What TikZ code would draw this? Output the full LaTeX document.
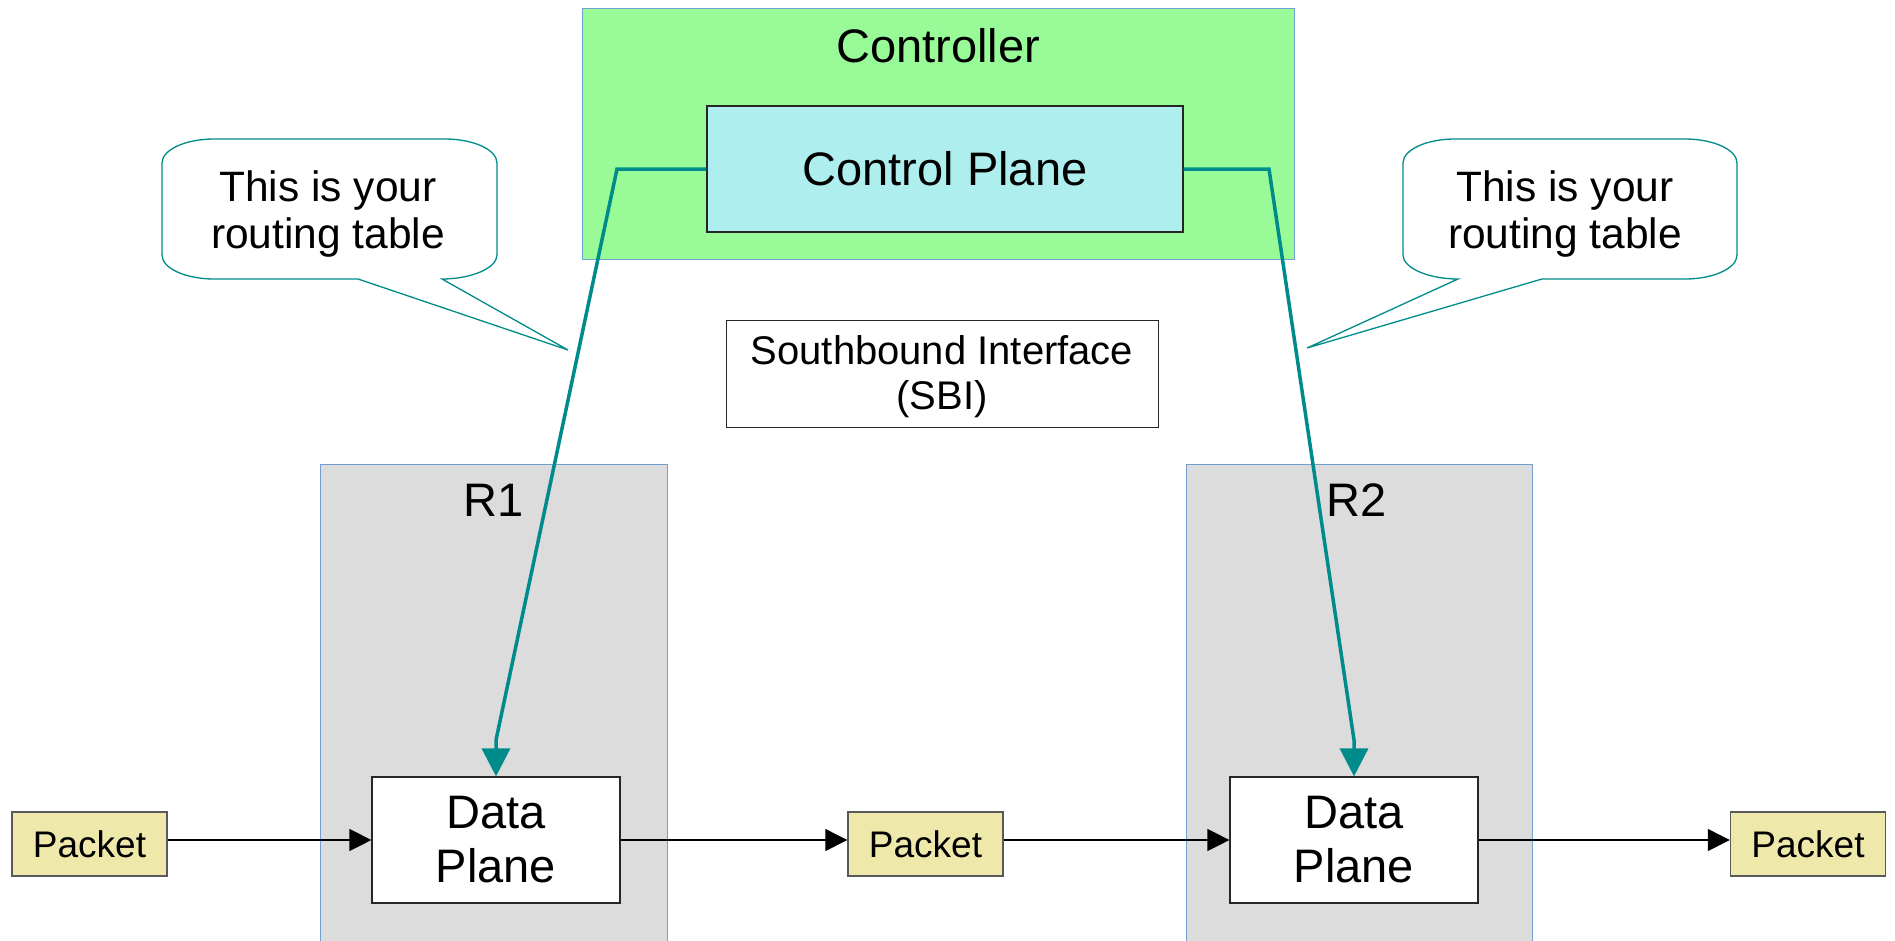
\documentclass[tikz,border=0pt]{standalone}
\usepackage{fontspec}
\setmainfont{Liberation Sans}
\usetikzlibrary{arrows.meta}

\definecolor{ctrlgreen}{RGB}{152,251,152}
\definecolor{cpcyan}{RGB}{175,238,238}
\definecolor{routergray}{RGB}{220,220,220}
\definecolor{pktyellow}{RGB}{238,232,170}
\definecolor{linkteal}{RGB}{0,139,139}
\definecolor{frameblue}{RGB}{114,159,207}

\begin{document}
\begin{tikzpicture}[x=1pt,y=-1pt,
  bigtext/.style={font=\fontsize{47}{54}\selectfont},
  container/.style={draw=frameblue, line width=1pt, rectangle, inner sep=0pt},
  plainbox/.style={draw=black!85, line width=1.2pt, rectangle, inner sep=0pt, align=center},
  packetbox/.style={draw=black!65, line width=1.4pt, fill=pktyellow, rectangle, inner sep=0pt,
    minimum width=155pt, minimum height=64pt, font=\fontsize{37}{42}\selectfont},
  dataplane/.style={plainbox, fill=white, minimum width=248pt, minimum height=126pt, bigtext},
  flow/.style={draw=black, line width=1.2pt, -{Triangle[length=22pt,width=22pt]}},
  ctrllink/.style={draw=linkteal, line width=3.5pt, -{Triangle[length=28pt,width=28pt]}},
  bubble/.style={draw=linkteal, line width=1.3pt, fill=white},
  bubbletext/.style={align=center, font=\fontsize{42.5}{47}\selectfont}
]
\clip (0,0) rectangle (1895,940);

% controller with its control plane
\node[container, fill=ctrlgreen, minimum width=712pt, minimum height=251pt] (ctrl) at (938,133.5) {};
\node[bigtext] (ctrllabel) at (938,46) {Controller};
\node[plainbox, fill=cpcyan, minimum width=476pt, minimum height=126pt, bigtext] (cp) at (945,169) {Control Plane};

% routers (running off the bottom edge)
\node[container, fill=routergray, minimum width=347pt, minimum height=480pt] (r1) at (493.5,704) {};
\node[bigtext] (r1label) at (494,500) {R1};
\node[container, fill=routergray, minimum width=346pt, minimum height=480pt] (r2) at (1359,704) {};
\node[bigtext] (r2label) at (1357,500) {R2};

% data planes
\node[dataplane] (dp1) at (496,840) {Data\\Plane};
\node[dataplane] (dp2) at (1354,840) {Data\\Plane};

% packets
\node[packetbox] (p1) at (89.5,844) {Packet};
\node[packetbox] (p2) at (925.5,844) {Packet};
\node[packetbox] (p3) at (1808,844) {Packet};

% southbound interface
\node[plainbox, line width=1pt, minimum width=432pt, minimum height=107pt] (sbi) at (942,373.5) {};
\node[align=center, font=\fontsize{40}{45}\selectfont] (sbitext) at (942,377) {Southbound Interface\\(SBI)};

% speech bubbles
\coordinate (tipL) at (568,350);
\coordinate (tipR) at (1307,348);
\path[bubble] (162,163) .. controls (162,149.8) and (185.3,139) .. (214,139)
  -- (445,139) .. controls (473.7,139) and (497,149.8) .. (497,163)
  -- (497,255) .. controls (497,268.2) and (471,279) .. (442,279)
  -- (tipL) -- (358,279) -- (214,279)
  .. controls (185.3,279) and (162,268.2) .. (162,255) -- cycle;
\node[bubbletext] (noteL) at (328,214) {This is your\\routing table};

\path[bubble] (1403,163) .. controls (1403,149.8) and (1426.3,139) .. (1455,139)
  -- (1685,139) .. controls (1713.7,139) and (1737,149.8) .. (1737,163)
  -- (1737,255) .. controls (1737,268.2) and (1713.7,279) .. (1685,279)
  -- (1542,279) -- (tipR) -- (1458,279)
  .. controls (1429,279) and (1403,268.2) .. (1403,255) -- cycle;
\node[bubbletext] (noteR) at (1565,214) {This is your\\routing table};

% packet flow
\draw[flow] (dp1.west -| p1.east) -- (dp1.west);
\draw[flow] (dp1.east) -- (dp1.east -| p2.west);
\draw[flow] (dp2.west -| p2.east) -- (dp2.west);
\draw[flow] (dp2.east) -- (dp2.east -| p3.west);

% control links from the control plane to each data plane
\coordinate (bendL1) at (617,169);
\coordinate (bendL2) at (496,740);
\coordinate (bendR1) at (1269,169);
\coordinate (bendR2) at (1354,740);
\draw[ctrllink] (cp.west) -- (bendL1) -- (bendL2) -- (dp1.north);
\draw[ctrllink] (cp.east) -- (bendR1) -- (bendR2) -- (dp2.north);
\end{tikzpicture}
\end{document}
